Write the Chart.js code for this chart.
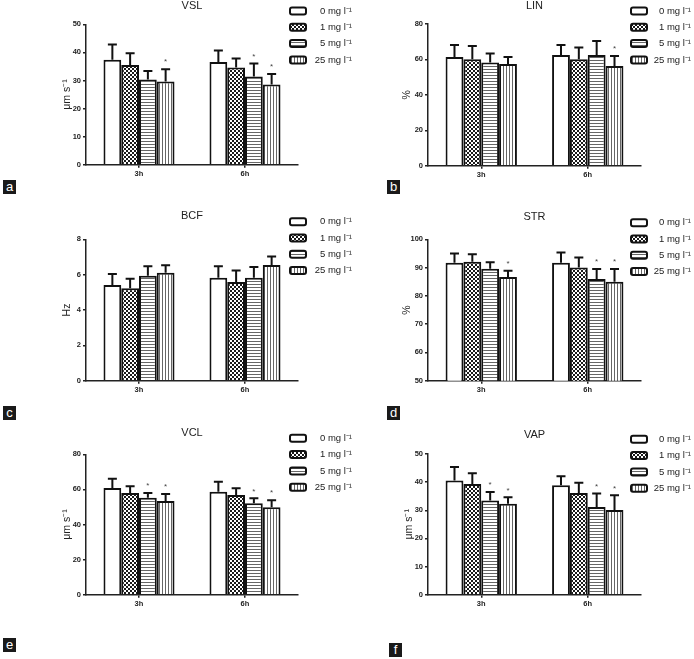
<!DOCTYPE html>
<html>
<head>
<meta charset="utf-8">
<script src="https://cdn.jsdelivr.net/npm/chart.js@4"></script>
<style>
  body { margin: 0; background: #fff; width: 694px; height: 659px; position: relative; overflow: hidden; font-family: "Liberation Sans", Arial, sans-serif; }
  canvas { position: absolute; }
  .tag { position: absolute; width: 13px; height: 14px; background: #1a1a1a; color: #fff; font-size: 13px; line-height: 13px; text-align: center; }
</style>
</head>
<body>
<div class="tag" style="left:3px;top:180px">a</div>
<div class="tag" style="left:387px;top:180px">b</div>
<div class="tag" style="left:3px;top:406px">c</div>
<div class="tag" style="left:387px;top:406px">d</div>
<div class="tag" style="left:3px;top:638px">e</div>
<div class="tag" style="left:389px;top:643px">f</div>
<script>
const times = ['3h', '6h'];
const doses = ['0 mg l⁻¹', '1 mg l⁻¹', '5 mg l⁻¹', '25 mg l⁻¹'];

// one row per dose, values for [3h, 6h]
const vslMean = [[37.4, 36.6], [35.5, 34.6], [30.3, 31.4], [29.6, 28.6]];
const vslSd   = [[5.4, 4.1], [4.2, 3.2], [3.1, 4.6], [4.4, 3.7]];
const vslSig  = [[0, 0], [0, 0], [0, 1], [1, 1]];
const vslTicks = [0, 10, 20, 30, 40, 50];

const linMean = [[61.4, 62.5], [60.1, 60.1], [58.2, 62.5], [57.4, 56.3]];
const linSd   = [[6.8, 5.7], [7.5, 6.6], [5.1, 7.9], [4.0, 5.7]];
const linSig  = [[0, 0], [0, 0], [0, 0], [0, 1]];
const linTicks = [0, 20, 40, 60, 80];

const bcfMean = [[5.42, 5.83], [5.23, 5.58], [5.94, 5.83], [6.11, 6.55]];
const bcfSd   = [[0.62, 0.64], [0.54, 0.65], [0.53, 0.60], [0.42, 0.47]];
const bcfSig  = [[0, 0], [0, 0], [0, 0], [0, 0]];
const bcfTicks = [0, 2, 4, 6, 8];

const strMean = [[91.7, 91.7], [92.1, 90.0], [89.6, 86.0], [86.7, 85.0]];
const strSd   = [[3.3, 3.6], [2.6, 3.6], [2.3, 3.5], [2.2, 4.5]];
const strSig  = [[0, 0], [0, 0], [0, 1], [1, 1]];
const strTicks = [50, 60, 70, 80, 90, 100];

const vclMean = [[60.8, 58.6], [58.0, 56.8], [55.3, 52.1], [53.4, 49.8]];
const vclSd   = [[5.2, 5.7], [3.8, 3.8], [2.7, 2.8], [4.0, 4.0]];
const vclSig  = [[0, 0], [0, 0], [1, 1], [1, 1]];
const vclTicks = [0, 20, 40, 60, 80];

const vapMean = [[40.6, 38.9], [39.3, 36.1], [33.5, 31.2], [32.3, 30.1]];
const vapSd   = [[4.8, 3.2], [3.9, 3.7], [3.0, 4.8], [2.3, 5.2]];
const vapSig  = [[0, 0], [0, 0], [1, 1], [1, 1]];
const vapTicks = [0, 10, 20, 30, 40, 50];

const family = '"Liberation Sans", Arial, sans-serif';

function pattern(w, h, draw) {
  const c = document.createElement('canvas');
  c.width = w; c.height = h;
  const g = c.getContext('2d');
  g.fillStyle = '#fff';
  g.fillRect(0, 0, w, h);
  draw(g);
  return g.createPattern(c, 'repeat');
}

const fills = [
  '#fff',
  pattern(4, 4, g => { g.fillStyle = '#1a1a1a'; g.fillRect(0, 0, 2, 2); g.fillRect(2, 2, 2, 2); }),
  pattern(1, 3, g => { g.fillStyle = '#666'; g.fillRect(0, 0, 1, 1); }),
  pattern(3, 1, g => { g.fillStyle = '#666'; g.fillRect(0, 0, 1, 1); })
];

// error bars (upper only) and significance stars
const errorBars = {
  id: 'errorBars',
  afterDatasetsDraw(chart) {
    const ctx = chart.ctx, y = chart.scales.y;
    ctx.save();
    ctx.strokeStyle = '#111';
    ctx.lineWidth = 2;
    chart.data.datasets.forEach((ds, i) => {
      chart.getDatasetMeta(i).data.forEach((bar, j) => {
        const top = y.getPixelForValue(ds.data[j] + ds.sd[j]);
        ctx.beginPath();
        ctx.moveTo(bar.x, bar.y);
        ctx.lineTo(bar.x, top);
        ctx.moveTo(bar.x - 4.5, top);
        ctx.lineTo(bar.x + 4.5, top);
        ctx.stroke();
        if (ds.sig[j]) {
          ctx.fillStyle = '#444';
          ctx.font = '8px ' + family;
          ctx.textAlign = 'center';
          ctx.textBaseline = 'middle';
          ctx.fillText('*', bar.x, top - 7);
        }
      });
    });
    ctx.restore();
  }
};

const doseLegend = {
  id: 'doseLegend',
  afterDraw(chart, args, o) {
    const ctx = chart.ctx;
    ctx.save();
    chart.data.datasets.forEach((ds, i) => {
      const y = o.y + i * 16.3;
      ctx.beginPath();
      ctx.roundRect(o.x, y - 3.5, 16, 7, 2);
      ctx.fillStyle = ds.backgroundColor;
      ctx.fill();
      ctx.lineWidth = 2;
      ctx.strokeStyle = '#111';
      ctx.stroke();
      ctx.fillStyle = '#222';
      ctx.font = '9.5px ' + family;
      ctx.textAlign = 'right';
      ctx.textBaseline = 'middle';
      ctx.fillText(ds.label, o.tr, y);
    });
    ctx.restore();
  }
};

const panels = [
  { title: 'VSL', yTitle: 'μm s⁻¹', mean: vslMean, sd: vslSd, sig: vslSig, ticks: vslTicks,
    box: { x: 0, y: 0, w: 360, h: 200 }, area: { l: 86, r: 298, t: 24.3, b: 164.7 }, titleY: 5.5, yTitleX: 67,
    legend: { x: 290, y: 11, tr: 352 } },
  { title: 'LIN', yTitle: '%', mean: linMean, sd: linSd, sig: linSig, ticks: linTicks,
    box: { x: 347, y: 0, w: 347, h: 200 }, area: { l: 81, r: 294, t: 24, b: 165.7 }, titleY: 5.5, yTitleX: 60,
    legend: { x: 284, y: 11, tr: 344 } },
  { title: 'BCF', yTitle: 'Hz', mean: bcfMean, sd: bcfSd, sig: bcfSig, ticks: bcfTicks,
    box: { x: 0, y: 200, w: 360, h: 220 }, area: { l: 86, r: 298, t: 39.3, b: 180.7 }, titleY: 16, yTitleX: 67,
    legend: { x: 290, y: 21.7, tr: 352 } },
  { title: 'STR', yTitle: '%', mean: strMean, sd: strSd, sig: strSig, ticks: strTicks,
    box: { x: 347, y: 200, w: 347, h: 220 }, area: { l: 81, r: 294, t: 39.3, b: 180.7 }, titleY: 16.7, yTitleX: 60,
    legend: { x: 284, y: 22.7, tr: 344 } },
  { title: 'VCL', yTitle: 'μm s⁻¹', mean: vclMean, sd: vclSd, sig: vclSig, ticks: vclTicks,
    box: { x: 0, y: 420, w: 360, h: 239 }, area: { l: 86, r: 298, t: 34.3, b: 174.7 }, titleY: 13.3, yTitleX: 67,
    legend: { x: 290, y: 18.3, tr: 352 } },
  { title: 'VAP', yTitle: 'μm s⁻¹', mean: vapMean, sd: vapSd, sig: vapSig, ticks: vapTicks,
    box: { x: 347, y: 420, w: 347, h: 239 }, area: { l: 81, r: 294, t: 34, b: 174.7 }, titleY: 15, yTitleX: 62,
    legend: { x: 284, y: 19.3, tr: 344 } }
];

function makeChart(p) {
  const cv = document.createElement('canvas');
  cv.width = p.box.w;
  cv.height = p.box.h;
  cv.style.left = p.box.x + 'px';
  cv.style.top = p.box.y + 'px';
  document.body.appendChild(cv);

  const xAxisH = 20;
  const padTop = p.titleY - 5.5;
  const axisLine = { color: '#222', width: 1.5 };
  const tickGrid = { drawOnChartArea: false, tickLength: 3, color: '#222', lineWidth: 1.5 };
  const tickFont = { size: 7.5, weight: 'bold', family };

  new Chart(cv, {
    type: 'bar',
    data: {
      labels: times,
      datasets: doses.map((d, i) => ({
        label: d,
        data: p.mean[i],
        sd: p.sd[i],
        sig: p.sig[i],
        backgroundColor: fills[i],
        borderColor: '#111',
        borderWidth: 2,
        categoryPercentage: 0.67,
        barPercentage: 1
      }))
    },
    options: {
      responsive: false,
      animation: false,
      layout: { padding: { left: 0, right: p.box.w - p.area.r, top: padTop, bottom: p.box.h - p.area.b - xAxisH } },
      plugins: {
        legend: { display: false },
        tooltip: { enabled: false },
        title: {
          display: true, text: p.title, fullSize: false, color: '#222',
          font: { size: 11, weight: 'normal', family, lineHeight: 1 },
          padding: { top: 0, bottom: p.area.t - padTop - 11 }
        },
        doseLegend: p.legend
      },
      scales: {
        x: {
          afterFit: s => { s.height = xAxisH; },
          grid: { ...tickGrid, offset: false },
          border: axisLine,
          ticks: { color: '#222', font: tickFont, padding: 2 }
        },
        y: {
          min: p.ticks[0],
          max: p.ticks[p.ticks.length - 1],
          afterFit: s => { s.width = p.area.l; },
          afterBuildTicks: s => { s.ticks = p.ticks.map(v => ({ value: v })); },
          grid: tickGrid,
          border: axisLine,
          ticks: { color: '#222', font: tickFont, padding: 2 },
          title: {
            display: true, text: p.yTitle, color: '#222',
            font: { size: 10.5, family },
            padding: { top: p.yTitleX - 6.3, bottom: 0 }
          }
        }
      }
    },
    plugins: [errorBars, doseLegend]
  });
}

panels.forEach(makeChart);
</script>
</body>
</html>
